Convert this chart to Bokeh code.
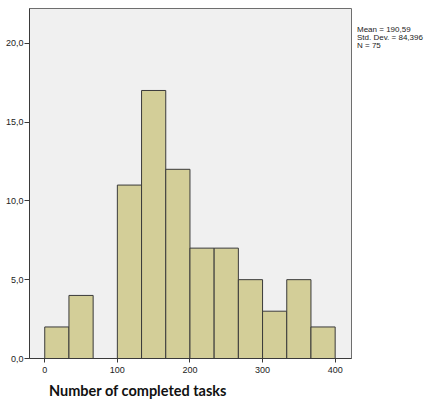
from bokeh.plotting import figure
from bokeh.models import Range1d, FixedTicker, ColumnDataSource, Div
from bokeh.layouts import row, column
from bokeh.embed import file_html
from bokeh.resources import INLINE

bin_left = [0, 33.33, 66.67, 100, 133.33, 166.67, 200, 233.33, 266.67, 300, 333.33, 366.67]
bin_right = [33.33, 66.67, 100, 133.33, 166.67, 200, 233.33, 266.67, 300, 333.33, 366.67, 400]
counts = [2, 4, 0, 11, 17, 12, 7, 7, 5, 3, 5, 2]

y_ticks = [0, 5, 10, 15, 20]
y_tick_labels = ["0,0", "5,0", "10,0", "15,0", "20,0"]
x_ticks = [0, 100, 200, 300, 400]
x_tick_labels = ["0", "100", "200", "300", "400"]

x_title = "Number of completed tasks"
stats_lines = ["Mean = 190,59", "Std. Dev. = 84,396", "N = 75"]

p = figure(width=356, height=381, output_backend="svg", toolbar_location=None,
           x_range=Range1d(-21, 422.5), y_range=Range1d(0, 22.2),
           min_border_left=29, min_border_right=5, min_border_top=8, min_border_bottom=23)

p.background_fill_color = "#f0f0f0"
p.border_fill_color = "white"
p.outline_line_color = "#6e6e6e"
p.outline_line_width = 1
p.xgrid.visible = False
p.ygrid.visible = False

src = ColumnDataSource(dict(left=[l for l, c in zip(bin_left, counts) if c > 0],
                            right=[r for r, c in zip(bin_right, counts) if c > 0],
                            top=[c for c in counts if c > 0]))
p.quad(left="left", right="right", bottom=0, top="top", source=src,
       fill_color="#d3ce98", line_color="#3a3a3a", line_width=1)

for ax in (p.xaxis[0], p.yaxis[0]):
    ax.axis_line_color = "#3a3a3a"
    ax.major_tick_line_color = "#3a3a3a"
    ax.minor_tick_line_color = None
    ax.major_label_text_font = "Liberation Sans"
    ax.major_label_text_font_size = "9px"
    ax.major_label_text_color = "#222222"
    ax.major_tick_in = 0

p.yaxis[0].ticker = FixedTicker(ticks=y_ticks)
p.yaxis[0].major_label_overrides = {t: s for t, s in zip(y_ticks, y_tick_labels)}
p.yaxis[0].major_tick_out = 5
p.yaxis[0].major_label_standoff = 1

p.xaxis[0].ticker = FixedTicker(ticks=x_ticks)
p.xaxis[0].major_label_overrides = {t: s for t, s in zip(x_ticks, x_tick_labels)}
p.xaxis[0].major_tick_out = 4
p.xaxis[0].major_label_standoff = 4

stats = Div(text="<br>".join(stats_lines), width=73, height=60, margin=(0, 0, 0, 0),
            styles={"font-family": "Liberation Sans", "font-size": "8px",
                    "line-height": "8px", "padding-top": "26px", "padding-left": "1px",
                    "color": "#222222", "white-space": "nowrap"})

title_div = Div(text=x_title, width=429, height=18, margin=(0, 0, 0, 0),
                styles={"font-family": "Lato", "font-weight": "bold", "font-size": "14.5px",
                        "line-height": "15px", "padding-top": "2px", "padding-left": "49px",
                        "color": "#111111", "white-space": "nowrap"})

layout = column(row(p, stats, spacing=0), title_div, spacing=0)
open("out.html", "w").write(file_html(layout, INLINE))
